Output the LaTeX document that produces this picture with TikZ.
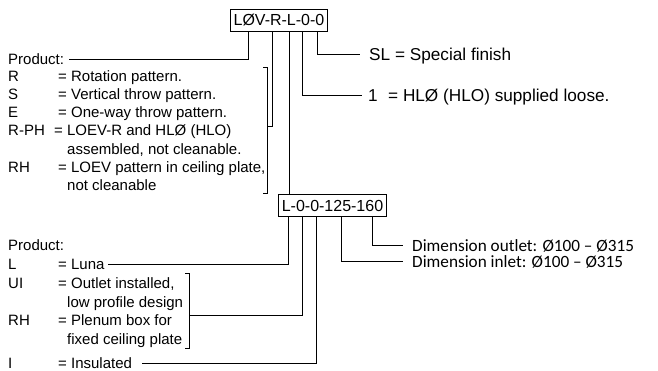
\documentclass[tikz,border=0pt]{standalone}
\usepackage{fontspec}
\setmainfont{Liberation Sans}
\newfontfamily\dimfont{Carlito}
\usetikzlibrary{positioning}

\tikzset{
  txt/.style={font=\fontsize{15}{18}\selectfont, inner sep=0pt,
    text height=10.7pt, text depth=0pt, anchor=west},
  bigtxt/.style={font=\fontsize{17.2}{21}\selectfont, inner sep=0pt,
    text height=12.3pt, text depth=0pt, anchor=west},
  dimtxt/.style={font=\dimfont\fontsize{17.2}{20}\selectfont, inner sep=0pt,
    text height=11.1pt, text depth=0pt, anchor=west},
  codebox/.style={draw, line width=0.8pt, font=\fontsize{16}{19}\selectfont,
    inner xsep=3pt, inner ysep=5.25pt, text height=11.5pt, text depth=0pt},
  lead/.style={line width=0.9pt},
}

\begin{document}
\begin{tikzpicture}[x=1pt,y=-1pt]
\useasboundingbox (0,0) rectangle (658,371);

% type codes
\node[codebox] (codeA) at (279,20) {LØV-R-L-0-0};
\node[codebox] (codeB) at (332.5,205.5) {L-0-0-125-160};

% options of the diffuser
\node[txt] (prodA) at (8,59) {Product:};
\node[txt] at (8,76) {R};       \node[txt] at (58,76) {= Rotation pattern.};
\node[txt] at (8,94.2) {S};     \node[txt] at (58,94.2) {= Vertical throw pattern.};
\node[txt] at (8,112.4) {E};    \node[txt] at (58,112.4) {= One-way throw pattern.};
\node[txt] at (8,130.6) {R-PH}; \node[txt] at (54,130.6) {= LOEV-R and HLØ (HLO)};
\node[txt] at (67,148.8) {assembled, not cleanable.};
\node[txt] at (8,167) {RH};     \node[txt] at (58,167) {= LOEV pattern in ceiling plate,};
\node[txt] at (67,185.2) {not cleanable};

\node[bigtxt] (sl) at (369,54) {SL = Special finish};
\node[bigtxt] (one) at (368,95) {1};
\node[bigtxt] at (388,95) {= HLØ (HLO) supplied loose.};

% options of the plenum box
\node[txt] at (8,245) {Product:};
\node[txt] at (8,264) {L};      \node[txt] (luna) at (58,264) {= Luna};
\node[txt] at (8,283) {UI};     \node[txt] at (58,283) {= Outlet installed,};
\node[txt] at (67,302) {low profile design};
\node[txt] at (8,320.5) {RH};   \node[txt] at (58,320.5) {= Plenum box for};
\node[txt] at (67,339.5) {fixed ceiling plate};
\node[txt] at (8,363) {I};      \node[txt] (insul) at (58,363) {= Insulated};

\node[dimtxt] (outlet) at (412,245.5) {Dimension outlet: Ø100 – Ø315};
\node[dimtxt] (inlet) at (412,261.5) {Dimension inlet: Ø100 – Ø315};

% brackets
\coordinate (brA) at (267,126);
\coordinate (brB) at (189,315);
\draw[lead] (263,67) -- (267,67) -- (267,193) -- (263,193);
\draw[lead] (185,273) -- (189,273) -- (189,348) -- (185,348);

% leaders of the upper code
\coordinate (xa1) at (248,0);
\coordinate (xa2) at (272,0);
\coordinate (xa3) at (289,0);
\coordinate (xa4) at (302,0);
\coordinate (xa5) at (317,0);
\draw[lead] (codeA.south -| xa1) |- ([xshift=5pt]prodA.east);
\draw[lead] (codeA.south -| xa2) |- (brA);
\draw[lead] (codeA.south -| xa3) -- (codeB.north -| xa3);
\draw[lead] (codeA.south -| xa4) |- ([xshift=-6pt]one.west);
\draw[lead] (codeA.south -| xa5) |- ([xshift=-9pt]sl.west);

% leaders of the lower code
\coordinate (xb1) at (288,0);
\coordinate (xb2) at (302,0);
\coordinate (xb3) at (316,0);
\coordinate (xb4) at (341,0);
\coordinate (xb5) at (372,0);
\draw[lead] (codeB.south -| xb1) |- ([xshift=3pt]luna.east);
\draw[lead] (codeB.south -| xb2) |- (brB);
\draw[lead] (codeB.south -| xb3) |- ([xshift=10pt]insul.east);
\draw[lead] (codeB.south -| xb4) |- ([xshift=-9pt]inlet.west);
\draw[lead] (codeB.south -| xb5) |- ([xshift=-9pt]outlet.west);
\end{tikzpicture}
\end{document}
